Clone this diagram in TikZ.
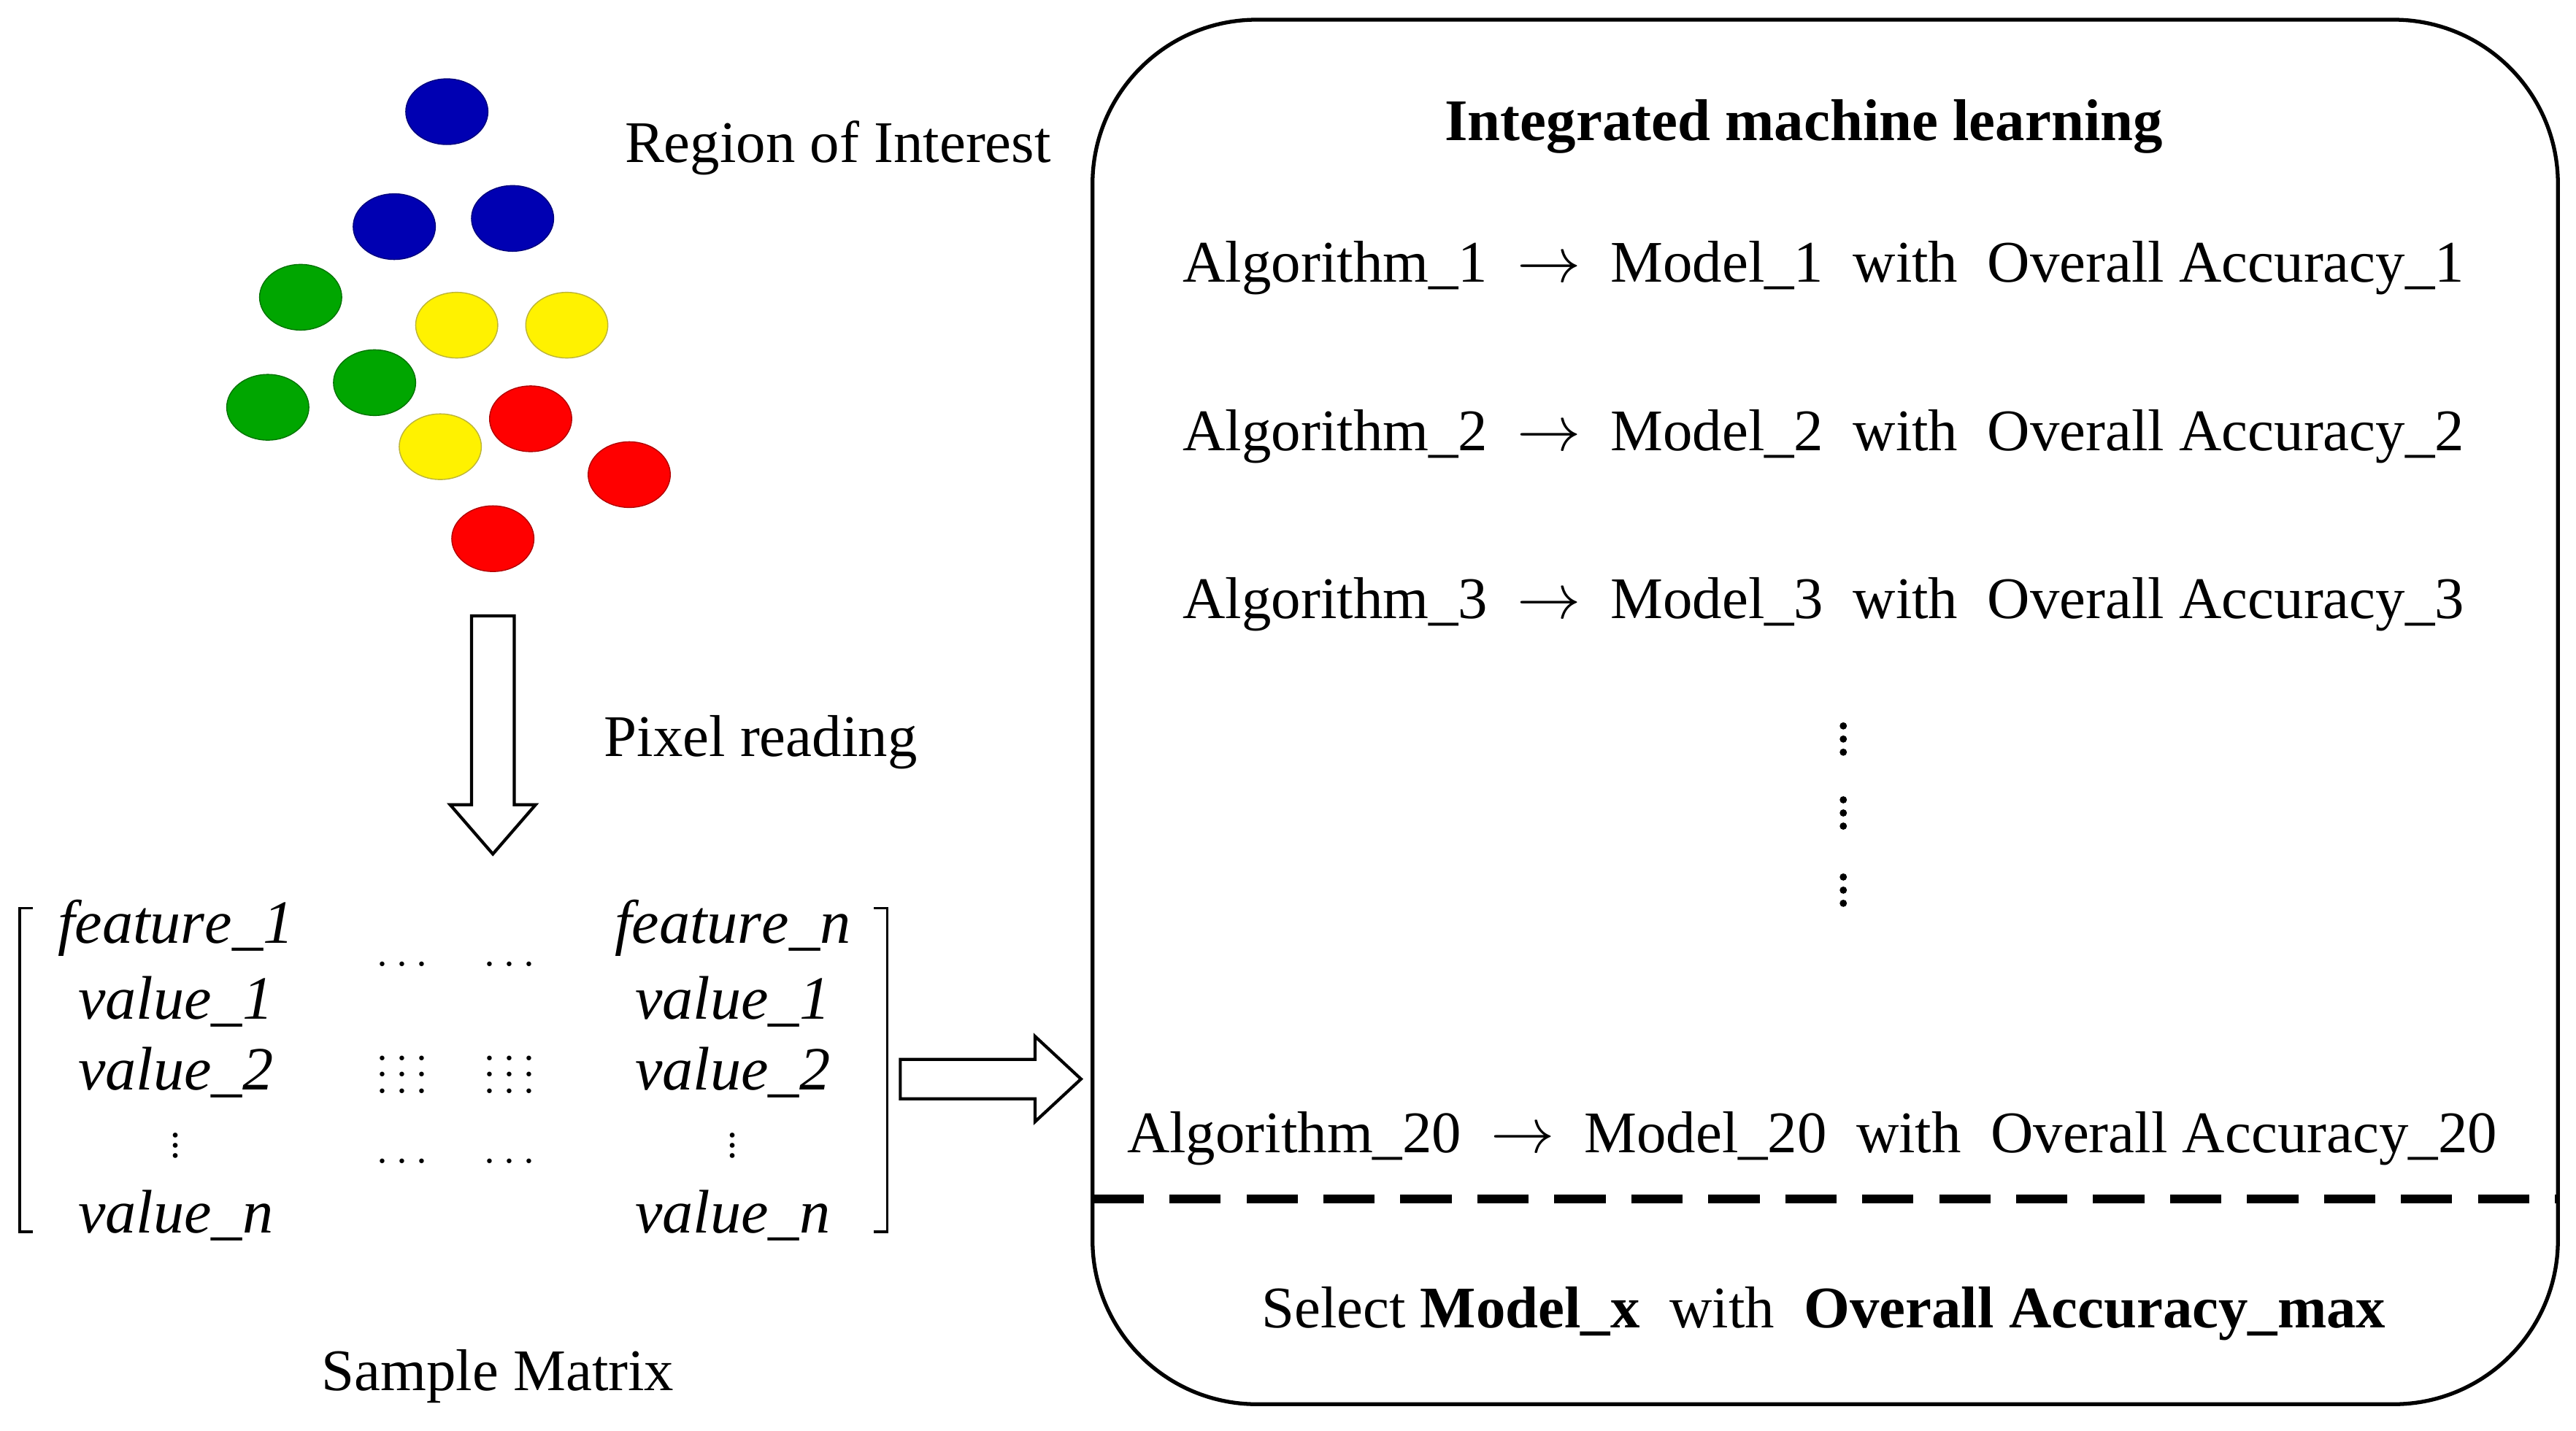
\documentclass[tikz,border=0pt]{standalone}
\usepackage{fontspec}
\setmainfont{Liberation Serif}
\begin{document}
\begin{tikzpicture}[x=0.0225cm,y=-0.0225cm,
    txt/.style={font=\fontsize{23}{27}\selectfont},
    mtx/.style={font=\fontsize{24}{28}\selectfont, inner sep=1pt},
    dts/.style={font=\fontsize{16}{18}\selectfont, inner sep=0pt},
    hollow/.style={draw, line width=1.2pt, fill=white, line join=miter}]
\useasboundingbox (0,0) rectangle (1568,871);
% region of interest
\foreach \x/\y/\c in {272/68/blue!70!black, 240/138/blue!70!black, 312/133/blue!70!black,
    183/181/green!65!black, 228/233/green!65!black, 163/248/green!65!black,
    278/198/yellow, 345/198/yellow, 268/272/yellow,
    323/255/red, 383/289/red, 300/328/red}
  \fill[\c, draw=\c!70!black] (\x,\y) ellipse (25 and 20);
\node[txt] (roi) at (510,90) {Region of Interest};
\draw[hollow] (287,375) -- (313,375) -- (313,490) -- (326,490) -- (300,520)
    -- (274,490) -- (287,490) -- cycle;
\node[txt] (pix) at (463,452) {Pixel reading};
% sample matrix
\draw[line width=1pt] (20,553) -- (12,553) -- (12,750) -- (20,750);
\draw[line width=1pt] (532,553) -- (540,553) -- (540,750) -- (532,750);
\foreach \y/\t in {565/{feature\_1}, 610/{value\_1}, 653/{value\_2}, 740/{value\_n}}
  \node[mtx] at (107,\y) {$\mathit{\t}$};
\foreach \y/\t in {565/{feature\_n}, 610/{value\_1}, 653/{value\_2}, 740/{value\_n}}
  \node[mtx] at (446,\y) {$\mathit{\t}$};
\node[dts] at (107,693) {$\vdots$};
\node[dts] at (446,693) {$\vdots$};
\foreach \x in {245,310} {
  \node[dts] at (\x,588) {$\cdots$};
  \node[dts] at (\x,645) {$\cdots$};
  \node[dts] at (\x,655) {$\cdots$};
  \node[dts] at (\x,665) {$\cdots$};
  \node[dts] at (\x,708) {$\cdots$};
}
\node[txt] (smp) at (303,838) {Sample Matrix};
\draw[hollow] (548,645) -- (630,645) -- (630,631) -- (658,657) -- (630,683)
    -- (630,669) -- (548,669) -- cycle;
% integrated machine learning
\draw[line width=1.5pt, rounded corners=100*0.0225cm] (665,12) rectangle (1557,855);
\draw[line width=3.5pt, dash pattern=on 20pt off 10pt] (665,730) -- (1557,730);
\node[txt, font=\fontsize{23}{27}\selectfont\bfseries] (title) at (1098,77) {Integrated machine learning};
\foreach \y/\n in {163/1, 266/2, 368/3}
  \node[txt] (alg\n) at (1110,\y) {Algorithm\_\n\ \ $\rightarrow$\ \ Model\_\n\ \ with\ \ Overall Accuracy\_\n};
\node[txt] (alg20) at (1103,693) {Algorithm\_20\ \ $\rightarrow$\ \ Model\_20\ \ with\ \ Overall Accuracy\_20};
\foreach \y in {450,495,542}
  \foreach \d in {-8,0,8}
    \fill (1122,\y+\d) circle (2.2);
\node[txt] (sel) at (1110,800) {Select \textbf{Model\_x}\ \ with\ \ \textbf{Overall Accuracy\_max}};
\end{tikzpicture}
\end{document}
